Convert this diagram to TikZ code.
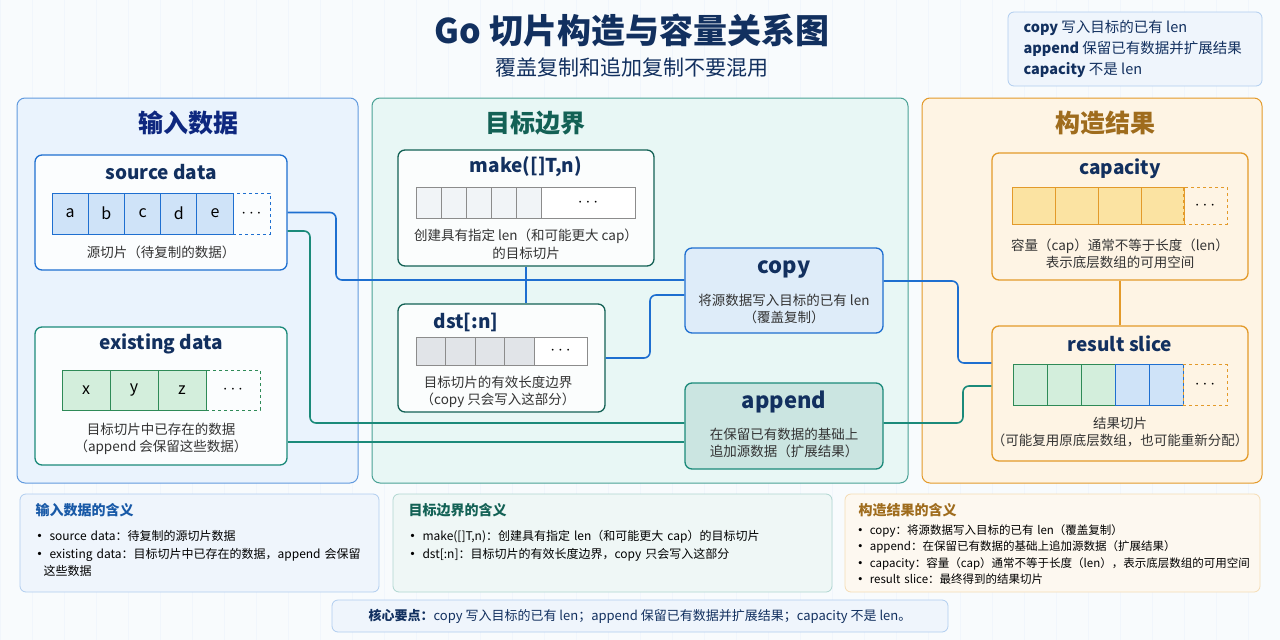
\documentclass[tikz,border=0pt]{standalone}
\usepackage{fontspec}
\setmainfont{Noto Sans CJK SC}
\usetikzlibrary{calc}
\definecolor{navy}{HTML}{12305F}
\definecolor{blueLine}{HTML}{1E6FD0}
\definecolor{blueFill}{HTML}{EAF3FD}
\definecolor{blueCell}{HTML}{CFE3F8}
\definecolor{tealLine}{HTML}{1B8A7A}
\definecolor{tealFill}{HTML}{E8F7F5}
\definecolor{greenCell}{HTML}{D3EEDC}
\definecolor{greenLine}{HTML}{2E8A57}
\definecolor{orangeLine}{HTML}{E39A2A}
\definecolor{orangeFill}{HTML}{FEF4E4}
\definecolor{yellowCell}{HTML}{FBE3A2}
\definecolor{grayCell}{HTML}{E1E4E8}
\definecolor{lightCell}{HTML}{F1F4F7}
\tikzset{
  fs/.style={font=\fontsize{#1pt}{\dimexpr #1pt*13/10\relax}\selectfont},
  panel/.style={draw=#1, line width=1pt, rounded corners=8pt},
  box/.style={draw=#1, line width=1.3pt, rounded corners=7pt, fill=white, fill opacity=0.85, text opacity=1},
  cell/.style={draw=#1, line width=0.9pt, minimum height=41pt, inner sep=0pt, fs=16},
  more/.style={draw=#1, dashed, line width=0.9pt, minimum height=41pt, inner sep=0pt, fs=16},
  btitle/.style={font=\bfseries\fontsize{19}{22}\selectfont, text=navy},
  capt/.style={fs=13.5, align=center, text=black!80},
  wire/.style={draw=#1, line width=1.6pt, rounded corners=6pt},
  note/.style={rounded corners=6pt, draw=#1!35, fill=#1!7, line width=0.8pt},
}
\newcommand\bul{\textbf{•}\ }
\begin{document}
\begin{tikzpicture}[x=1pt,y=-1pt]
\useasboundingbox (0,0) rectangle (1280,640);
% background grid
\fill[white!97!blueLine] (0,0) rectangle (1280,640);
\draw[blueLine!6, line width=0.5pt] (0,0) grid[step=32] (1280,640);

% heading
\node[font=\bfseries\fontsize{34}{40}\selectfont, text=navy] (title) at (632,30) {Go 切片构造与容量关系图};
\node[fs=21, text=navy] (subtitle) at (632,68) {覆盖复制和追加复制不要混用};
\draw[note=blueLine] (1008,12) rectangle (1262,86);
\node[anchor=west, align=left, text=navy, font=\fontsize{14.5}{21}\selectfont] (key) at (1020,49)
  {\textbf{copy} 写入目标的已有 len\\\textbf{append} 保留已有数据并扩展结果\\\textbf{capacity} 不是 len};

% three panels
\draw[panel=blueLine!70, fill=blueFill] (17,98) rectangle (358,483);
\draw[panel=tealLine!80, fill=tealFill] (372,98) rectangle (908,483);
\draw[panel=orangeLine, fill=orangeFill] (922,98) rectangle (1262,483);
\node[font=\bfseries\fontsize{25}{30}\selectfont, text=navy!80!blue] (pin) at (188,123) {输入数据};
\node[font=\bfseries\fontsize{25}{30}\selectfont, text=tealLine!70!black] (pdst) at (535,123) {目标边界};
\node[font=\bfseries\fontsize{25}{30}\selectfont, text=orangeLine!70!black] (pres) at (1105,123) {构造结果};

% boxes
\node[box=blueLine, minimum width=252pt, minimum height=115pt] (src) at (161,212.5) {};
\node[box=tealLine, minimum width=252pt, minimum height=138pt] (exist) at (161,396) {};
\node[box=tealLine!70!black, minimum width=256pt, minimum height=116pt] (make) at (526,208) {};
\node[box=tealLine!70!black, minimum width=207pt, minimum height=108pt] (dst) at (501.5,358) {};
\node[box=blueLine, fill=blueCell!70, minimum width=198pt, minimum height=85pt] (copy) at (784,290.5) {};
\node[box=tealLine, fill=tealLine!25, minimum width=198pt, minimum height=86pt] (append) at (784,426) {};
\node[box=orangeLine, fill=orangeFill, minimum width=256pt, minimum height=127pt] (capa) at (1120,216.5) {};
\node[box=orangeLine, fill=orangeFill, minimum width=256pt, minimum height=135pt] (result) at (1120,393.5) {};

% connectors
\draw[wire=blueLine] (make.south) -- (make.south |- dst.north);
\draw[wire=blueLine] (src.east) -- (336,212.5) -- (336,280) -- ($(copy.west)+(0,-10.5)$);
\draw[wire=blueLine] (dst.east) -- (650,358) -- (650,295) -- ($(copy.west)+(0,4.5)$);
\draw[wire=blueLine] ($(copy.east)+(0,-9.5)$) -- (958,281) -- (958,363) -- ($(result.west)+(0,-30.5)$);
\draw[wire=tealLine] ($(src.east)+(0,18.5)$) -- (310,231) -- (310,423) -- ($(append.west)+(0,-3)$);
\draw[wire=tealLine] ($(exist.east)+(0,46)$) -- ($(append.west)+(0,16)$);
\draw[wire=tealLine] ($(append.east)+(0,-3)$) -- (963,423) -- (963,386) -- ($(result.west)+(0,-7.5)$);
\draw[wire=orangeLine] (capa.south) -- (result.north);

% source data
\node[btitle] (srcT) at (161,172) {source data};
\foreach \t [count=\i] in {a,b,c,d,e}
  \node[cell=blueLine, fill=blueCell, minimum width=36.2pt] (s\i) at (34+36.2*\i,213.5) {\t};
\node[more=blueLine, minimum width=37pt] (sm) at (251.5,213.5) {$\cdots$};
\node[capt] (srcC) at (161,252) {源切片（待复制的数据）};

% existing data
\node[btitle] (exT) at (161,344) {existing data};
\foreach \t [count=\i] in {x,y,z}
  \node[cell=greenLine, fill=greenCell, minimum width=48pt, minimum height=40pt] (e\i) at (38+48*\i,390) {\t};
\node[more=greenLine, minimum width=54pt, minimum height=40pt] (em) at (233,390) {$\cdots$};
\node[capt] (exC) at (161,439) {目标切片中已存在的数据\\（append 会保留这些数据）};

% make
\node[btitle] (makeT) at (526,167) {make([]T,n)};
\foreach \i in {1,...,5}
  \node[cell=black!45, fill=lightCell, minimum width=25pt, minimum height=31pt] (m\i) at (403.5+25*\i,202.5) {};
\node[cell=black!45, fill=white, minimum width=94pt, minimum height=31pt] (mm) at (588,202.5) {$\cdots$};
\node[capt] (makeC) at (526,244) {创建具有指定 len（和可能更大 cap）\\的目标切片};

% dst
\node[btitle] (dstT) at (466,322) {dst[:n]};
\foreach \i in {1,...,4}
  \node[cell=black!45, fill=grayCell, minimum width=29.5pt, minimum height=28pt] (d\i) at (401.25+29.5*\i,351) {};
\node[cell=black!45, fill=white, minimum width=53pt, minimum height=28pt] (dm) at (560.5,351) {$\cdots$};
\node[capt] (dstC) at (498,392) {目标切片的有效长度边界\\（copy 只会写入这部分）};

% copy / append
\node[font=\bfseries\fontsize{22}{26}\selectfont, text=navy] (copyT) at (784,269) {copy};
\node[capt] (copyC) at (784,309) {将源数据写入目标的已有 len\\（覆盖复制）};
\node[font=\bfseries\fontsize{22}{26}\selectfont, text=navy] (appT) at (784,402) {append};
\node[capt] (appC) at (784,443) {在保留已有数据的基础上\\追加源数据（扩展结果）};

% capacity
\node[btitle] (capT) at (1120,169) {capacity};
\foreach \i in {1,...,4}
  \node[cell=orangeLine, fill=yellowCell, minimum width=43pt, minimum height=37pt] (c\i) at (990.5+43*\i,205.5) {};
\node[more=orangeLine, minimum width=44pt, minimum height=37pt] (cm) at (1205,205.5) {$\cdots$};
\node[capt] (capC) at (1120,254) {容量（cap）通常不等于长度（len）\\表示底层数组的可用空间};

% result slice
\node[btitle] (resT) at (1120,344) {result slice};
\foreach \i/\c/\l in {1/greenCell/greenLine,2/greenCell/greenLine,3/greenCell/greenLine,4/blueCell/blueLine,5/blueCell/blueLine}
  \node[cell=\l, fill=\c, minimum width=34pt] (r\i) at (996+34*\i,385) {};
\node[more=orangeLine, minimum width=44pt] (rm) at (1205,385) {$\cdots$};
\node[capt] (resC) at (1120,432) {结果切片\\（可能复用原底层数组，也可能重新分配）};

% explanations
\draw[note=blueLine] (20,494) rectangle (379,592);
\node[anchor=west, font=\bfseries\fontsize{14}{17}\selectfont, text=blueLine!80!black] (n1T) at (32,510) {输入数据的含义};
\node[anchor=north west, align=left, text width=335pt, font=\fontsize{12}{17.5}\selectfont] (n1) at (30,527)
  {\bul source data：待复制的源切片数据\\\bul existing data：目标切片中已存在的数据，append 会保留\\\hspace*{10pt}这些数据};
\draw[note=tealLine] (393,494) rectangle (832,592);
\node[anchor=west, font=\bfseries\fontsize{14}{17}\selectfont, text=tealLine!70!black] (n2T) at (405,510) {目标边界的含义};
\node[anchor=north west, align=left, text width=420pt, font=\fontsize{12}{17.5}\selectfont] (n2) at (403,527)
  {\bul make([]T,n)：创建具有指定 len（和可能更大 cap）的目标切片\\\bul dst[:n]：目标切片的有效长度边界，copy 只会写入这部分};
\draw[note=orangeLine] (845,494) rectangle (1260,592);
\node[anchor=west, font=\bfseries\fontsize{14}{17}\selectfont, text=orangeLine!70!black] (n3T) at (855,510) {构造结果的含义};
\node[anchor=north west, align=left, text width=405pt, font=\fontsize{11.5}{16.5}\selectfont] (n3) at (851,521)
  {\bul copy：将源数据写入目标的已有 len（覆盖复制）\\\bul append：在保留已有数据的基础上追加源数据（扩展结果）\\\bul capacity：容量（cap）通常不等于长度（len），表示底层数组的可用空间\\\bul result slice：最终得到的结果切片};
\draw[note=blueLine] (332,600) rectangle (948,632);
\node[fs=13, text=navy] (core) at (640,616) {\textbf{核心要点：}copy 写入目标的已有 len；append 保留已有数据并扩展结果；capacity 不是 len。};
\end{tikzpicture}
\end{document}
